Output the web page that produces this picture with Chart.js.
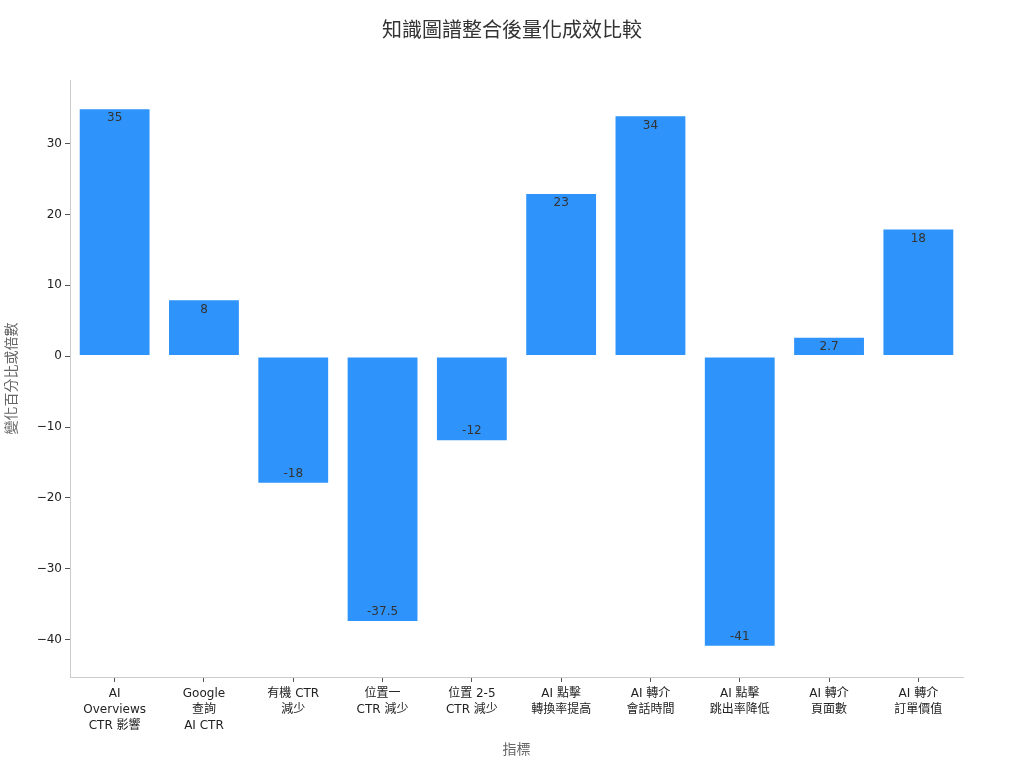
<!DOCTYPE html>
<html>
<head>
<meta charset="utf-8">
<script src="https://cdn.jsdelivr.net/npm/chart.js@4.4.0/dist/chart.umd.min.js"></script>
<style>
  html, body { margin: 0; padding: 0; background: #fff; }
  #wrap { width: 1024px; height: 768px; }
</style>
</head>
<body>
<div id="wrap"><canvas id="chart" width="1024" height="768"></canvas></div>
<script>
// chart data
const categories = [
    ['AI', 'Overviews', 'CTR 影響'],
    ['Google', '查詢', 'AI CTR'],
    ['有機 CTR', '減少'],
    ['位置一', 'CTR 減少'],
    ['位置 2-5', 'CTR 減少'],
    ['AI 點擊', '轉換率提高'],
    ['AI 轉介', '會話時間'],
    ['AI 點擊', '跳出率降低'],
    ['AI 轉介', '頁面數'],
    ['AI 轉介', '訂單價值']
];
const values = [35, 8, -18, -37.5, -12, 23, 34, -41, 2.7, 18];
const yTicks = [-40, -30, -20, -10, 0, 10, 20, 30];
const chartTitle = '知識圖譜整合後量化成效比較';

const FONT = '"DejaVu Sans", "Noto Sans CJK TC", sans-serif';
const BAR_COLOR = '#2E93FA';

// Title centred on the whole canvas (built-in title centres on the padded box)
const pageTitle = {
    id: 'pageTitle',
    afterDraw(chart) {
        const ctx = chart.ctx;
        ctx.save();
        ctx.font = '20px ' + FONT;
        ctx.fillStyle = '#333';
        ctx.textAlign = 'center';
        ctx.textBaseline = 'middle';
        ctx.fillText(chartTitle, chart.width / 2, 32);
        ctx.restore();
    }
};

// Draw the value text inside each bar, near its outer end
const barLabels = {
    id: 'barLabels',
    afterDatasetsDraw(chart) {
        const ctx = chart.ctx;
        const meta = chart.getDatasetMeta(0);
        ctx.save();
        ctx.font = '12px ' + FONT;
        ctx.fillStyle = '#333';
        ctx.textAlign = 'center';
        ctx.textBaseline = 'middle';
        meta.data.forEach((bar, i) => {
            const v = values[i];
            const y = v >= 0 ? bar.y + 10 : bar.y - 10;
            ctx.fillText(String(v), bar.x, y);
        });
        ctx.restore();
    }
};

new Chart(document.getElementById('chart'), {
    type: 'bar',
    data: {
        labels: categories,
        datasets: [{
            data: values,
            backgroundColor: BAR_COLOR,
            borderColor: 'rgba(255,255,255,0.6)',
            borderWidth: 0.8,
            borderSkipped: false,
            categoryPercentage: 0.8,
            barPercentage: 1.0
        }]
    },
    options: {
        responsive: false,
        animation: false,
        layout: { padding: { left: 0, right: 61, top: 80, bottom: 0 } },
        plugins: {
            legend: { display: false },
            tooltip: { enabled: false },
            title: { display: false }
        },
        scales: {
            x: {
                afterFit(scale) { scale.height = 91; },
                grid: { display: true, offset: false, drawOnChartArea: false, drawTicks: true, tickLength: 5, color: '#555' },
                border: { display: true, color: '#ccc' },
                ticks: {
                    color: '#222',
                    padding: 4,
                    maxRotation: 0,
                    autoSkip: false,
                    font: { family: FONT, size: 12, lineHeight: 1.33 }
                },
                title: {
                    display: true,
                    text: '指標',
                    color: '#666',
                    font: { family: FONT, size: 14 },
                    padding: { top: 4, bottom: 9 }
                }
            },
            y: {
                min: -45.3,
                max: 39.0,
                afterFit(scale) { scale.width = 70; },
                afterBuildTicks(scale) { scale.ticks = yTicks.map(v => ({ value: v })); },
                grid: { display: true, drawOnChartArea: false, drawTicks: true, tickLength: 5, color: '#555' },
                border: { display: true, color: '#ccc' },
                ticks: {
                    color: '#222',
                    padding: 3,
                    font: { family: FONT, size: 12 },
                    callback: v => String(v).replace('-', '\u2212')
                },
                title: {
                    display: true,
                    text: '變化百分比或倍數',
                    color: '#666',
                    font: { family: FONT, size: 14 },
                    padding: { top: 4, bottom: 4 }
                }
            }
        }
    },
    plugins: [barLabels, pageTitle]
});
</script>
</body>
</html>
